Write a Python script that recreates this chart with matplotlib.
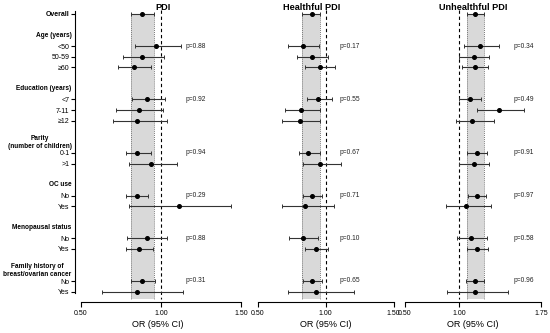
import matplotlib
matplotlib.use("Agg")
import matplotlib.pyplot as plt
from matplotlib.transforms import blended_transform_factory

plt.rcParams['font.family'] = ['Liberation Sans', 'DejaVu Sans']

# ---------------- data ----------------
groups = ["Age (years)", "Education (years)", "Parity\n(number of children)",
          "OC use", "Menopausal status", "Family history of\nbreast/ovarian cancer"]
group_cats = [["<50", "50-59", "≥60"], ["<7", "7-11", "≥12"], ["0-1", ">1"],
              ["No", "Yes"], ["No", "Yes"], ["No", "Yes"]]

panel_titles = ["PDI", "Healthful PDI", "Unhealthful PDI"]

# OR, lower CI, upper CI  (Overall first, then categories in order)
pdi_or = [0.88, 0.97, 0.88, 0.83, 0.91, 0.86, 0.85, 0.85, 0.94, 0.85, 1.11, 0.91, 0.86, 0.88, 0.85]
pdi_lo = [0.81, 0.84, 0.76, 0.73, 0.82, 0.72, 0.70, 0.78, 0.80, 0.78, 0.80, 0.79, 0.78, 0.81, 0.63]
pdi_hi = [0.955, 1.125, 1.02, 0.94, 1.025, 1.01, 1.035, 0.94, 1.10, 0.92, 1.44, 1.04, 0.95, 0.96, 1.135]
pdi_p = ["p=0.88", "p=0.92", "p=0.94", "p=0.29", "p=0.88", "p=0.31"]

hpdi_or = [0.90, 0.83, 0.90, 0.96, 0.94, 0.82, 0.81, 0.87, 0.96, 0.90, 0.85, 0.83, 0.93, 0.90, 0.93]
hpdi_lo = [0.828, 0.72, 0.79, 0.85, 0.86, 0.70, 0.68, 0.80, 0.83, 0.83, 0.68, 0.73, 0.85, 0.83, 0.72]
hpdi_hi = [0.96, 0.95, 1.02, 1.07, 1.045, 0.96, 0.96, 0.955, 1.11, 0.97, 1.06, 0.94, 1.02, 0.97, 1.21]
hpdi_p = ["p=0.17", "p=0.55", "p=0.67", "p=0.71", "p=0.10", "p=0.65"]

updi_or = [1.145, 1.19, 1.13, 1.145, 1.10, 1.36, 1.12, 1.16, 1.13, 1.16, 1.065, 1.11, 1.16, 1.145, 1.145]
updi_lo = [1.071, 1.045, 1.00, 1.025, 1.00, 1.16, 0.97, 1.07, 1.00, 1.08, 0.88, 0.98, 1.07, 1.06, 0.89]
updi_hi = [1.23, 1.365, 1.27, 1.26, 1.20, 1.59, 1.32, 1.255, 1.27, 1.245, 1.295, 1.25, 1.26, 1.23, 1.45]
updi_p = ["p=0.34", "p=0.49", "p=0.91", "p=0.97", "p=0.58", "p=0.96"]

x_ticks = [[0.5, 1.0, 1.5], [0.5, 1.0, 1.5], [0.5, 1.0, 1.75]]
x_ticklabels = [["0.50", "1.00", "1.50"], ["0.50", "1.00", "1.50"], ["0.50", "1.00", "1.75"]]
p_xpos = [1.156, 1.10, 1.50]

# ---------------- layout ----------------
W, H = 550, 333
fig = plt.figure(figsize=(W / 100, H / 100), dpi=100)

# row positions from the group structure
row_pos = [0]
header_pos = []
cur = 0
for cats in group_cats:
    cur += 2
    header_pos.append(cur)
    for _ in cats:
        cur += 1
        row_pos.append(cur)
first_cat_pos = [h + 1 for h in header_pos]
labels = ["Overall"] + [c for cats in group_cats for c in cats]

px_row = 10.68
y_top_px, y_bot_px = 6, 302
ylim = ((y_bot_px - 14) / px_row, (y_top_px - 14) / px_row)

panel_px = [(75, 241), (257.7, 393.7), (405, 541)]
xlims = [(0.5 - 6 / 160, 1.5), (0.5, 1.5), (0.5, 1.75)]
title_px = [162.5, 312, 473]

data = [(pdi_or, pdi_lo, pdi_hi, pdi_p),
        (hpdi_or, hpdi_lo, hpdi_hi, hpdi_p),
        (updi_or, updi_lo, updi_hi, updi_p)]

for i, (ors, los, his, ps) in enumerate(data):
    l, r = panel_px[i]
    ax = fig.add_axes([l / W, 1 - y_bot_px / H, (r - l) / W, (y_bot_px - y_top_px) / H])
    ax.set_xlim(*xlims[i])
    ax.set_ylim(*ylim)
    ax.patch.set_alpha(0)

    # shaded overall CI band
    ax.fill_betweenx([0, ylim[0] - 0.3], los[0], his[0], color="#d9d9d9", lw=0, zorder=0)
    for xv in (los[0], his[0]):
        ax.plot([xv, xv], [0, ylim[0] - 0.3], color="#7a7a7a", lw=0.7, ls=(0, (1, 1)), zorder=1)
    # reference line at 1
    ax.plot([1, 1], [-0.4, ylim[0] - 0.3], color="black", lw=0.8, ls=(0, (3, 2.5)), zorder=1)

    err = [[o - lo for o, lo in zip(ors, los)], [hi - o for o, hi in zip(ors, his)]]
    ax.errorbar(ors, row_pos, xerr=err, fmt="o", color="black", ecolor="#333333",
                elinewidth=0.8, capsize=1.6, capthick=0.7, markersize=2.6, zorder=3)

    for pos, ptxt in zip(first_cat_pos, ps):
        ax.text(p_xpos[i], pos, ptxt, fontsize=4.8, va="center", ha="left", color="#222222")

    for s in ("top", "right"):
        ax.spines[s].set_visible(False)
    ax.spines["bottom"].set_bounds(0.5, xlims[i][1])
    ax.spines["bottom"].set_linewidth(0.8)
    ax.set_xticks(x_ticks[i])
    ax.set_xticklabels(x_ticklabels[i], fontsize=5)
    ax.tick_params(axis="x", length=3.5, width=0.8, pad=2)
    ax.set_xlabel("OR (95% CI)", fontsize=6.5, labelpad=2.5)

    if i == 0:
        ax.spines["left"].set_bounds(-0.3, 26.1)
        ax.spines["left"].set_linewidth(0.8)
        ax.set_yticks(row_pos)
        ax.set_yticklabels(labels, fontsize=5.0)
        ax.tick_params(axis="y", length=3, width=0.8, pad=1)
        ax.get_yticklabels()[0].set_fontweight("bold")
        tr = blended_transform_factory(fig.transFigure, ax.transData)
        for hp, g in zip(header_pos, groups):
            ax.text(71.5 / W, hp, g, transform=tr, ha="right", va="center",
                    fontsize=4.7, fontweight="bold", multialignment="center",
                    linespacing=1.15)
    else:
        ax.spines["left"].set_visible(False)
        ax.set_yticks([])

    fig.text(title_px[i] / W, 1 - 7.5 / H, panel_titles[i], ha="center", va="center",
             fontsize=6.6, fontweight="bold")

fig.savefig("out.png", dpi=100)
